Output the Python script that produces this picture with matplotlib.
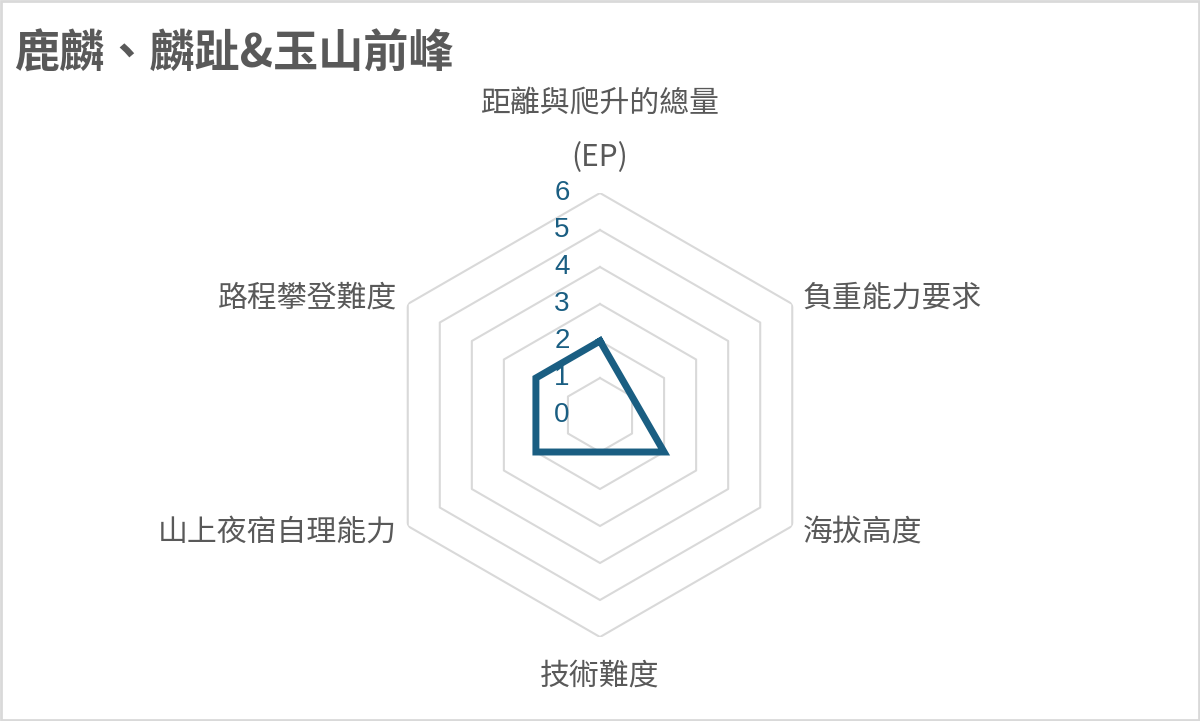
import numpy as np
import matplotlib
matplotlib.use('Agg')
import matplotlib.pyplot as plt
from matplotlib.transforms import ScaledTranslation

plt.rcParams['font.family'] = ['Noto Sans CJK TC', 'DejaVu Sans']

title = '鹿麟、麟趾&玉山前峰'
categories = ['距離與爬升的總量', '負重能力要求', '海拔高度', '技術難度', '山上夜宿自理能力', '路程攀登難度']
top_sub = '(EP)'
values = [2, 1, 2, 1, 2, 2]
ticks = [0, 1, 2, 3, 4, 5, 6]

line_color = '#1a5e82'
text_gray = '#595959'
grid_gray = '#d9d9d9'

fig = plt.figure(figsize=(12, 7.21), dpi=100)
ax = fig.add_axes([0.315, 0.1165, 0.37, 0.6158], projection='polar')
ax.set_theta_zero_location('N')
ax.set_theta_direction(-1)
ax.set_ylim(0, 6)
ax.grid(False)
ax.spines['polar'].set_visible(False)
ax.set_xticks([])
ax.set_yticks([])
ax.patch.set_alpha(0)

n = len(categories)
angles = np.linspace(0, 2 * np.pi, n, endpoint=False)
closed = np.append(angles, angles[0])

# hexagon rings
for t in ticks[1:]:
    ax.plot(closed, [t] * (n + 1), color=grid_gray, lw=1.5, zorder=1)

# data polygon
vals = values + values[:1]
ax.plot(closed, vals, color=line_color, lw=5, solid_joinstyle='miter', zorder=3)

# tick labels along the top axis
off = ScaledTranslation(-38 / 100, 0, fig.dpi_scale_trans)
for t in ticks:
    ax.text(0, t, str(t), transform=ax.transData + off, ha='center', va='center',
            fontsize=20, color=line_color, family=['Liberation Sans', 'DejaVu Sans'], zorder=4)

# category labels
fs = 21.5
ax.text(0, 8.43, categories[0], ha='center', va='center', fontsize=fs, color=text_gray)
ax.text(0, 6.97, top_sub, ha='center', va='center', fontsize=fs, color=text_gray)
ax.text(angles[1], 6.33, categories[1], ha='left', va='center', fontsize=fs, color=text_gray)
ax.text(angles[2], 6.33, categories[2], ha='left', va='center', fontsize=fs, color=text_gray)
ax.text(angles[3], 7.05, categories[3], ha='center', va='center', fontsize=fs, color=text_gray)
ax.text(angles[4], 6.33, categories[4], ha='right', va='center', fontsize=fs, color=text_gray)
ax.text(angles[5], 6.33, categories[5], ha='right', va='center', fontsize=fs, color=text_gray)

fig.text(14 / 1200, 1 - 55 / 721, title, ha='left', va='center', fontsize=32.5,
         fontweight='bold', color=text_gray)

# chart border
fig.patches.append(plt.Rectangle((0.001, 0.002), 0.998, 0.996, transform=fig.transFigure,
                                 fill=False, edgecolor=grid_gray, lw=2))

fig.savefig('out.png', dpi=100)
